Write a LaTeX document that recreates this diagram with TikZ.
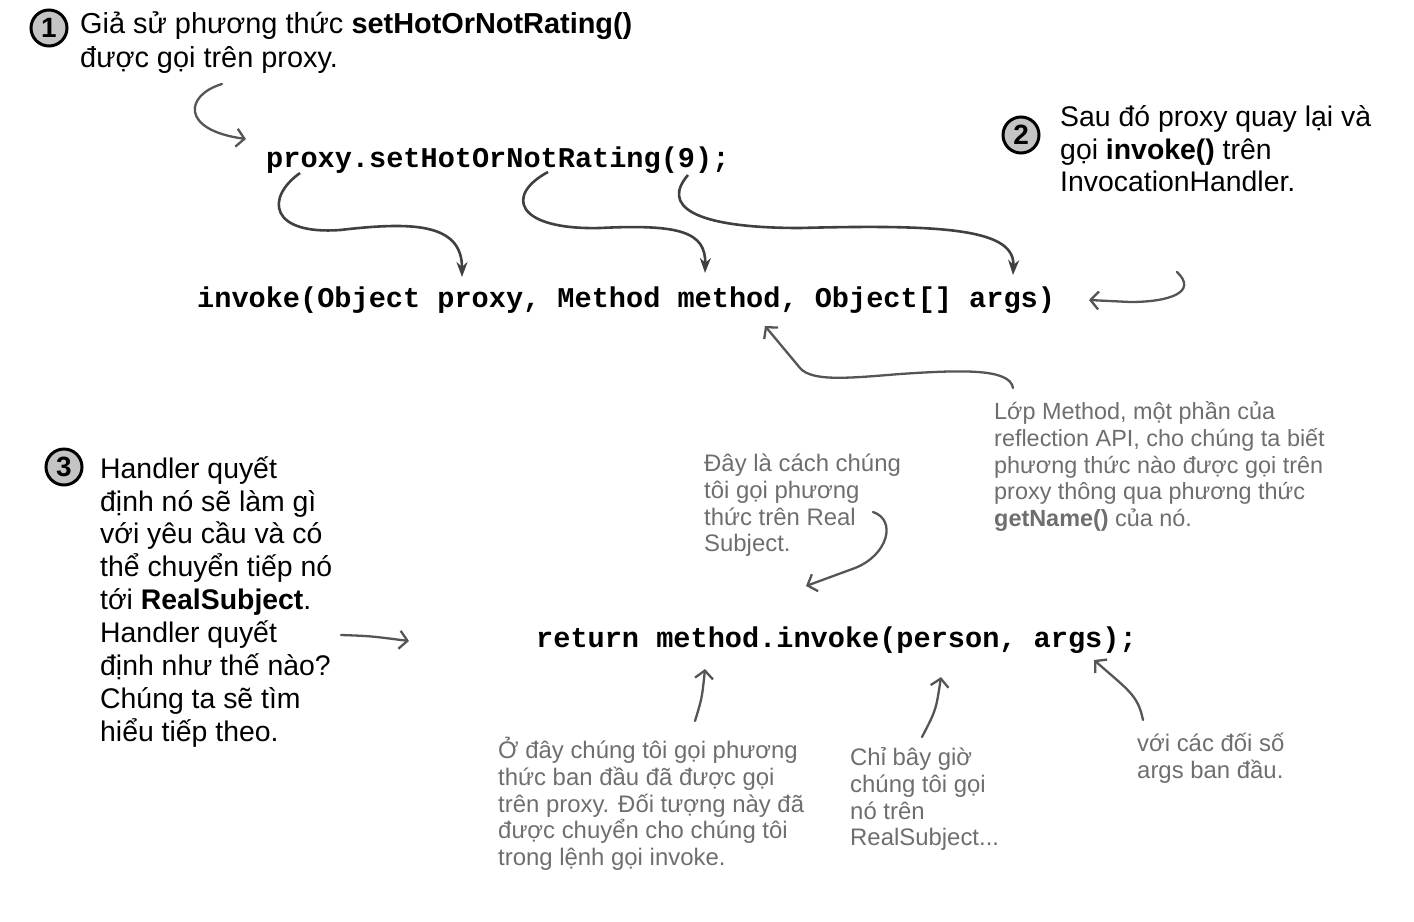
\documentclass[tikz,border=0pt]{standalone}
\usepackage{fontspec}
\setmainfont{Liberation Sans}
\newfontfamily\codefont{Liberation Mono}
\usetikzlibrary{arrows.meta}
\definecolor{stepgray}{HTML}{C4C4C4}
\definecolor{arrowgray}{HTML}{404040}
\definecolor{notegray}{HTML}{555555}
\definecolor{notetext}{HTML}{6E6E6E}
\newcommand\mtop{\rule{0pt}{30bp}}
\newcommand\ntop{\rule{0pt}{25bp}}
\begin{document}
\begin{tikzpicture}[x=1bp,y=-1bp,
  numcirc/.style={circle,draw=black,line width=3bp,fill=stepgray,inner sep=0pt,minimum size=36bp,font=\fontsize{28}{28}\selectfont\bfseries},
  maintext/.style={anchor=north west,align=left,inner sep=0pt,font=\fontsize{28.5}{33}\selectfont},
  note/.style={anchor=north west,align=left,inner sep=0pt,text=notetext,font=\fontsize{24}{27}\selectfont},
  code/.style={anchor=base west,inner sep=0pt,font=\codefont\bfseries\fontsize{28.7}{30}\selectfont},
  bigarrow/.style={draw=arrowgray,line width=2.6bp,-{Stealth[length=15bp,width=11bp]}},
  thinarrow/.style={draw=notegray,line width=2.3bp,line cap=round,-{Straight Barb[length=8bp,width=18bp]}}
]
\useasboundingbox (0,0) rectangle (1414,921);

% step markers
\node[numcirc] (c1) at (49,28) {1};
\node[numcirc] (c2) at (1021,135) {2};
\node[numcirc] (c3) at (64,467) {3};

% main texts (top = first baseline - 30)
\node[maintext,font=\fontsize{29}{34}\selectfont] (t1) at (80,3) {\mtop Giả sử phương thức \textbf{setHotOrNotRating()}\\được gọi trên proxy.};
\node[maintext] (t2) at (1060,96) {\mtop Sau đó proxy quay lại và\\gọi \textbf{invoke()} trên\\InvocationHandler.};
\node[maintext] (t3) at (100,448) {\mtop Handler quyết\\định nó sẽ làm gì\\với yêu cầu và có\\thể chuyển tiếp nó\\tới \textbf{RealSubject}.\\Handler quyết\\định như thế nào?\\Chúng ta sẽ tìm\\hiểu tiếp theo.};

% code
\node[code] (call) at (266,167) {proxy.setHotOrNotRating(9);};
\node[code] (inv) at (197,307) {invoke(Object proxy, Method method, Object[] args)};
\node[code] (ret) at (536,647) {return method.invoke(person, args);};

% notes (top = first baseline - 25)
\node[note,font=\fontsize{23.5}{27}\selectfont] (nmethod) at (994,394) {\ntop Lớp Method, một phần của\\reflection API, cho chúng ta biết\\phương thức nào được gọi trên\\proxy thông qua phương thức\\\textbf{getName()} của nó.};
\node[note] (nreal) at (704,446) {\ntop Đây là cách chúng\\tôi gọi phương\\thức trên Real\\Subject.};
\node[note] (norig) at (498,733) {\ntop Ở đây chúng tôi gọi phương\\thức ban đầu đã được gọi\\trên proxy. Đối tượng này đã\\được chuyển cho chúng tôi\\trong lệnh gọi invoke.};
\node[note] (nnow) at (850,740) {\ntop Chỉ bây giờ\\chúng tôi gọi\\nó trên\\RealSubject...};
\node[note] (nargs) at (1137,726) {\ntop với các đối số\\args ban đầu.};

% coordinates for connector ends
\coordinate (a1s) at (222,84);
\coordinate (a1e) at (246,139);
\coordinate (p1s) at (300,173);
\coordinate (p1e) at (462,277);
\coordinate (p2s) at (548,172);
\coordinate (p2e) at (705,273);
\coordinate (p3s) at (688,175);
\coordinate (p3e) at (1013,275);
\coordinate (a2s) at (1177,272);
\coordinate (a2e) at (1089,300);
\coordinate (mS) at (1013,388);
\coordinate (mE) at (765,326);
\coordinate (rS) at (873,512);
\coordinate (rE) at (806,586);
\coordinate (hS) at (341,635);
\coordinate (hE) at (409,641);
\coordinate (oS) at (695,721);
\coordinate (oE) at (705,669);
\coordinate (nS) at (922,737);
\coordinate (nE) at (941,677);
\coordinate (gS) at (1143,720);
\coordinate (gE) at (1094,660);

% connectors
\draw[thinarrow] (a1s) .. controls (185,95) and (180,130) .. (a1e);
\draw[bigarrow] (p1s) .. controls (265,198) and (270,235) .. (340,230) .. controls (410,222) and (462,222) .. (p1e);
\draw[bigarrow] (p2s) .. controls (505,195) and (515,230) .. (600,228) .. controls (680,224) and (706,232) .. (p2e);
\draw[bigarrow] (p3s) .. controls (662,205) and (690,228) .. (800,228) .. controls (950,224) and (1015,230) .. (p3e);
\draw[thinarrow] (a2s) .. controls (1198,292) and (1170,302) .. (1130,302) -- (a2e);
\draw[thinarrow] (mS) .. controls (1010,368) and (960,370) .. (900,374) .. controls (850,378) and (812,382) .. (800,368) -- (mE);
\draw[thinarrow] (rS) .. controls (897,520) and (888,555) .. (855,568) -- (rE);
\draw[thinarrow] (hS) .. controls (370,636) .. (hE);
\draw[thinarrow] (oS) .. controls (702,698) .. (oE);
\draw[thinarrow] (nS) .. controls (936,710) .. (nE);
\draw[thinarrow] (gS) .. controls (1138,695) and (1128,690) .. (gE);
\end{tikzpicture}
\end{document}
